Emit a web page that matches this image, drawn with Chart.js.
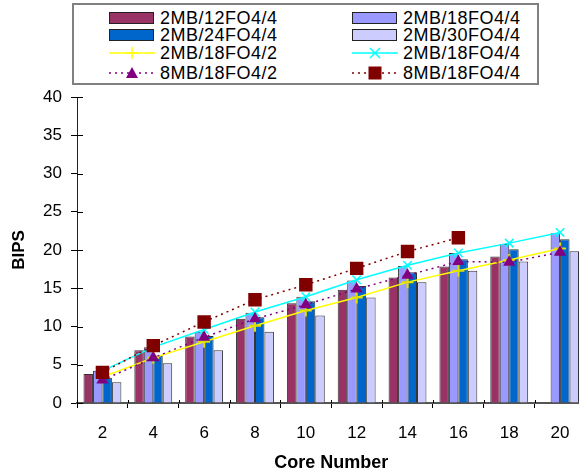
<!DOCTYPE html>
<html><head><meta charset="utf-8">
<script src="https://cdn.jsdelivr.net/npm/chart.js@4.4.1/dist/chart.umd.min.js"></script>
<style>
html,body{margin:0;padding:0;background:#fff;overflow:hidden;width:579px;height:476px;}
#wrap{position:absolute;left:0;top:0;width:595px;height:476px;}
#legend{position:absolute;left:72px;top:3px;width:463px;height:78px;border:2px solid #808080;background:#fff;font-family:"Liberation Sans",Arial,sans-serif;font-size:18px;letter-spacing:0.5px;color:#000;}
.item{position:absolute;height:18px;display:flex;align-items:center;white-space:nowrap;}
.item svg{margin-right:5px;flex:none;}
</style></head>
<body>
<div id="wrap"><canvas id="c" width="595" height="476"></canvas></div>
<div id="legend"></div>
<script>
const categories = ['2','4','6','8','10','12','14','16','18','20'];
const bar12 = [3.8, 6.9, 8.7, 11.0, 13.05, 14.8, 16.4, 17.85, 19.15, null];
const bar18 = [4.2, 7.3, 9.3, 11.8, 13.9, 16.0, 17.9, 19.6, 20.8, 22.2];
const bar24 = [3.3, 6.2, 8.75, 11.2, 13.3, 15.3, 17.1, 18.8, 20.1, 21.4];
const bar30 = [2.7, 5.2, 6.9, 9.3, 11.45, 13.8, 15.8, 17.3, 18.5, 19.85];
const line18_2 = [3.4, 5.9, 8.0, 10.1, 12.1, 13.8, 15.8, 17.3, 18.7, 20.2];
const line18_4 = [4.2, 7.3, 9.6, 11.9, 13.9, 16.1, 18.0, 19.6, 20.9, 22.3];
const line8_18_2 = [3.0, 5.9, 8.6, 11.0, 12.85, 14.9, 16.7, 18.5, 18.4, 19.7];
const line8_18_4 = [4.0, 7.5, 10.6, 13.5, 15.45, 17.6, 19.8, 21.6, null, null];
const yTicks = [0,5,10,15,20,25,30,35,40];

const FONT = '"Liberation Sans", Arial, sans-serif';
const barCommon = {categoryPercentage:0.745, barPercentage:1.0, borderColor:'#333', borderWidth:1, order:4};

const datasets = [
  {label:'2MB/12FO4/4', data:bar12, backgroundColor:'#993366', ...barCommon},
  {label:'2MB/18FO4/4', data:bar18, backgroundColor:'#9999FF', ...barCommon},
  {label:'2MB/24FO4/4', data:bar24, backgroundColor:'#0066CC', ...barCommon},
  {label:'2MB/30FO4/4', data:bar30, backgroundColor:'#CCCCFF', ...barCommon},
  {type:'line', label:'2MB/18FO4/2', data:line18_2, borderColor:'#FFFF00', backgroundColor:'#FFFF00', borderWidth:1.5,
   pointStyle:'cross', pointRadius:6, pointBorderColor:'#E0E000', pointBorderWidth:2, tension:0, order:3},
  {type:'line', label:'2MB/18FO4/4', data:line18_4, borderColor:'#00FFFF', backgroundColor:'#00FFFF', borderWidth:1.5,
   pointStyle:'crossRot', pointRadius:6, pointBorderWidth:1.5, tension:0, order:2},
  {type:'line', label:'8MB/18FO4/2', data:line8_18_2, borderColor:'#800080', backgroundColor:'#800080', borderWidth:1.5, borderDash:[2,4],
   pointStyle:'triangle', pointRadius:7, pointBorderWidth:0, tension:0, order:1},
  {type:'line', label:'8MB/18FO4/4', data:line8_18_4, borderColor:'#800000', backgroundColor:'#800000', borderWidth:1.5, borderDash:[2,4],
   pointStyle:'rect', pointRadius:9.5, pointBorderWidth:0, tension:0, order:0}
];

const innerTicks = {
  id:'innerTicks',
  afterDraw(chart){
    const {ctx, scales:{x, y}} = chart;
    ctx.save();
    ctx.strokeStyle = '#000';
    ctx.lineWidth = 1;
    y.ticks.forEach((t, i) => {
      const py = Math.round(y.getPixelForTick(i)) + 0.5;
      ctx.beginPath(); ctx.moveTo(x.left, py); ctx.lineTo(x.left + 6, py); ctx.stroke();
    });
    for (let i = 0; i <= categories.length; i++) {
      const px = Math.round(x.getPixelForValue(i - 0.5)) + 0.5;
      ctx.beginPath(); ctx.moveTo(px, y.bottom); ctx.lineTo(px, y.bottom - 3); ctx.stroke();
    }
    ctx.restore();
  }
};

new Chart(document.getElementById('c'), {
  type:'bar',
  data:{labels:categories, datasets},
  plugins:[innerTicks],
  options:{
    responsive:false, animation:false, devicePixelRatio:1,
    layout:{padding:{top:97, left:0, right:0, bottom:0}},
    plugins:{legend:{display:false}, tooltip:{enabled:false}},
    scales:{
      x:{
        offset:true,
        grid:{display:true, drawOnChartArea:false, offset:true, tickLength:5, color:'#000'},
        border:{display:true, color:'#555', width:2},
        ticks:{font:{family:FONT, size:17}, color:'#000', padding:15},
        title:{display:true, text:'Core Number', color:'#000', font:{family:FONT, size:18, weight:'bold'}, padding:{top:2, bottom:2}},
        afterFit(s){ s.height = 73; }
      },
      y:{
        min:0, max:40,
        afterBuildTicks(s){ s.ticks = yTicks.map(v => ({value:v})); },
        grid:{display:true, drawOnChartArea:false, tickLength:6, color:'#000'},
        border:{display:true, color:'#222', width:1},
        ticks:{font:{family:FONT, size:17}, color:'#000', padding:9},
        title:{display:true, text:'BIPS', color:'#000', font:{family:FONT, size:17, weight:'bold'}, padding:{top:9, bottom:0}},
        afterFit(s){ s.width = 77; }
      }
    }
  }
});

// HTML legend (two columns, as in the reference)
const legendItems = [
  {ds:0, kind:'bar'}, {ds:1, kind:'bar'},
  {ds:2, kind:'bar'}, {ds:3, kind:'bar'},
  {ds:4, kind:'cross'}, {ds:5, kind:'crossRot'},
  {ds:6, kind:'triangle'}, {ds:7, kind:'rect'}
];
function symbol(kind, d){
  const c = d.backgroundColor;
  if (kind === 'bar') return `<svg width="46" height="14"><rect x="0.5" y="1.5" width="44" height="11" fill="${c}" stroke="#222" stroke-width="1"/></svg>`;
  const dash = d.borderDash ? 'stroke-dasharray="2,4"' : '';
  let line = `<line x1="0" y1="7" x2="46" y2="7" stroke="${d.borderColor}" stroke-width="1.5" ${dash}/>`;
  let m = '';
  if (kind === 'cross') m = `<line x1="23" y1="1" x2="23" y2="13" stroke="${c}" stroke-width="1.5"/><line x1="17" y1="7" x2="29" y2="7" stroke="${c}" stroke-width="1.5"/>`;
  if (kind === 'crossRot') m = `<line x1="18" y1="2" x2="28" y2="12" stroke="${c}" stroke-width="1.5"/><line x1="28" y1="2" x2="18" y2="12" stroke="${c}" stroke-width="1.5"/>`;
  if (kind === 'triangle') m = `<polygon points="23,1 29,12 17,12" fill="${c}"/>`;
  if (kind === 'rect') m = `<rect x="16.5" y="0.5" width="13" height="13" fill="${c}"/>`;
  return `<svg width="46" height="14">${line}${m}</svg>`;
}
const rowTops = [4, 21, 39, 59];
const colLefts = [35, 278];
const lg = document.getElementById('legend');
legendItems.forEach((it, i) => {
  const d = datasets[it.ds];
  const el = document.createElement('div');
  el.className = 'item';
  el.style.left = colLefts[i % 2] + 'px';
  el.style.top = rowTops[Math.floor(i / 2)] + 'px';
  el.innerHTML = symbol(it.kind, d) + '<span>' + d.label + '</span>';
  lg.appendChild(el);
});
</script>
</body></html>
